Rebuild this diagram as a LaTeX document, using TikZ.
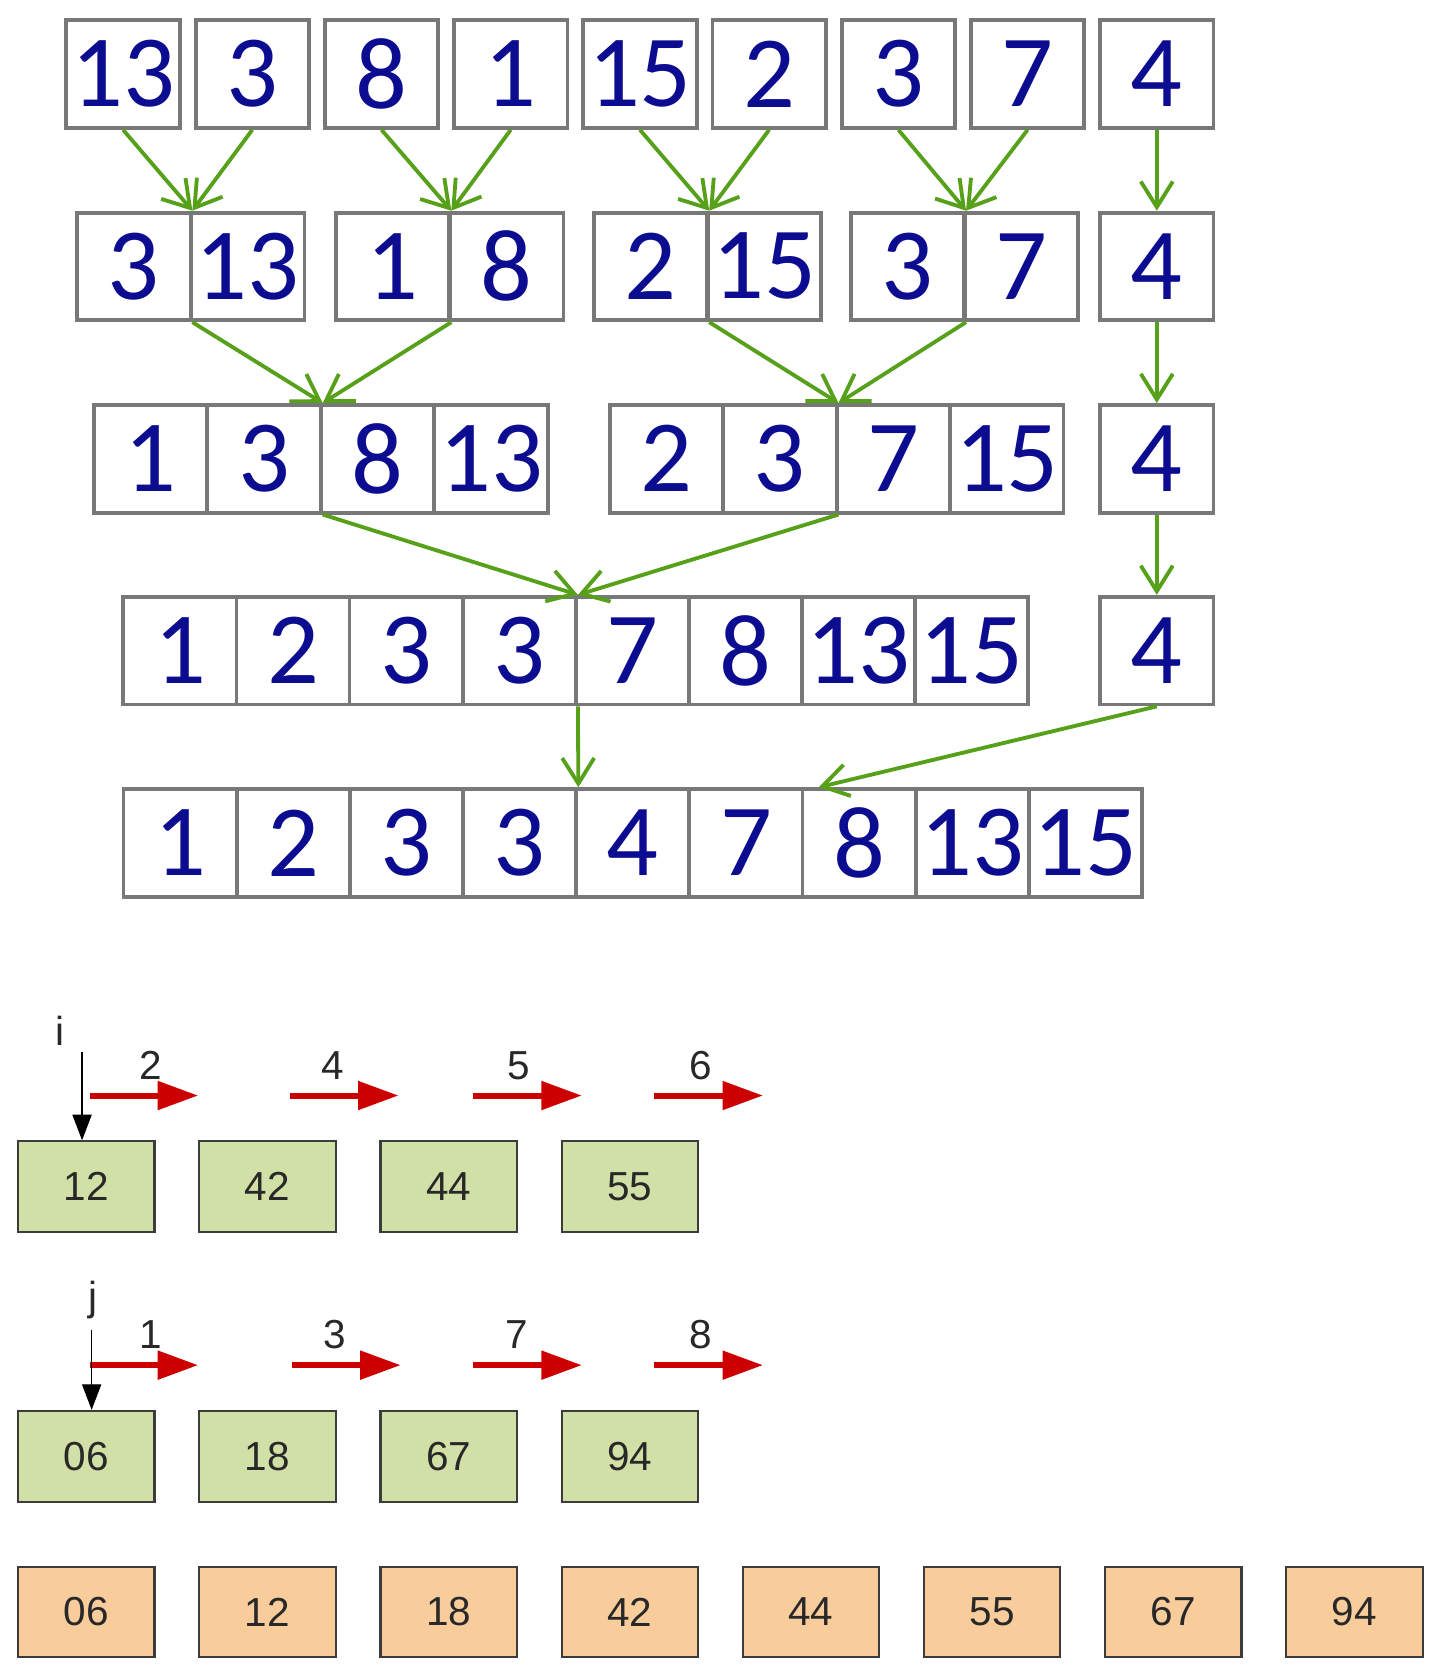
\documentclass[tikz,border=0pt]{standalone}
\usepackage{fontspec}
\usepackage{tikz}
\usetikzlibrary{arrows.meta}
\newfontfamily\digitfont{Carlito}
\newfontfamily\labelfont{Liberation Sans}
\definecolor{digitblue}{RGB}{12,12,145}
\definecolor{cellgray}{RGB}{120,120,120}
\definecolor{flowgreen}{RGB}{86,160,26}
\definecolor{arrowred}{RGB}{204,0,0}
\definecolor{boxline}{RGB}{60,60,60}
\definecolor{labelgray}{RGB}{40,40,40}
\definecolor{lightgreen}{RGB}{209,224,167}
\definecolor{lightorange}{RGB}{249,204,156}

\begin{document}
\begin{tikzpicture}[x=0.5pt,y=-0.5pt]
    \tikzstyle{cell}=[draw=cellgray, line width=1.8pt, fill=white, inner sep=0pt,
        minimum width=53.2pt, minimum height=50.5pt, text=digitblue,
        font=\digitfont\fontsize{48}{48}\selectfont]
    \tikzstyle{flow}=[draw=flowgreen, line width=1.8pt,
        -{Straight Barb[length=12pt,width=15pt]}]
    \tikzstyle{gbox}=[draw=boxline, line width=1pt, fill=lightgreen, inner sep=0pt,
        minimum width=64pt, minimum height=42.5pt, text=labelgray,
        font=\labelfont\fontsize{19}{19}\selectfont]
    \tikzstyle{obox}=[gbox, fill=lightorange]
    \tikzstyle{advance}=[draw=arrowred, line width=2.8pt, -{Triangle[length=19pt,width=13pt]}]
    \tikzstyle{steplab}=[inner sep=0pt, text=labelgray, font=\labelfont\fontsize{19}{19}\selectfont]
    \tikzstyle{ptr}=[draw=black, line width=0.6pt, -{Triangle[length=12pt,width=9pt]}]
    \useasboundingbox (0,0) rectangle (1347,1568);
    % merge sort rows
    \foreach \v [count=\k] in {13,3,8,1,15,2,3,7,4}
        \node[cell] (r1c\k) at ({115.5+(\k-1)*121.25},69.5) {\v};
    \foreach \v/\x [count=\k] in {3/125.5,13/232.5,1/368.5,8/475.5,2/610.5,15/717.5,3/851.5,7/958.5,4/1085.5}
        \node[cell] (r2c\k) at (\x,250) {\v};
    \foreach \v/\x [count=\k] in {1/141.3,3/247.8,8/354.3,13/460.8,2/625.3,3/731.8,7/838.3,15/944.8,4/1085.5}
        \node[cell] (r3c\k) at (\x,430.5) {\v};
    \foreach \v [count=\k] in {1,2,3,3,7,8,13,15}
        \node[cell] (r4c\k) at ({169+(\k-1)*106.1},610.5) {\v};
    \node[cell] (r4c9) at (1085.5,610.5) {4};
    \foreach \v [count=\k] in {1,2,3,3,4,7,8,13,15}
        \node[cell] (r5c\k) at ({169.1+(\k-1)*106.2},791) {\v};
    % merge arrows
    \foreach \i in {1,3,5,7} {
        \pgfmathtruncatemacro{\j}{\i+1}
        \draw[flow] (r1c\i.south) -- (r2c\i.north east);
        \draw[flow] (r1c\j.south) -- (r2c\i.north east);
    }
    \draw[flow] (r2c1.south east) -- (r3c2.north east);
    \draw[flow] (r2c3.south east) -- (r3c2.north east);
    \draw[flow] (r2c5.south east) -- (r3c6.north east);
    \draw[flow] (r2c7.south east) -- (r3c6.north east);
    \draw[flow] (r3c2.south east) -- (r4c4.north east);
    \draw[flow] (r3c6.south east) -- (r4c4.north east);
    \draw[flow] (r4c4.south east) -- (r5c4.north east);
    \draw[flow] (r1c9) -- (r2c9);
    \draw[flow] (r2c9) -- (r3c9);
    \draw[flow] (r3c9) -- (r4c9);
    \draw[flow] (r4c9.south) -- ([xshift=8.5pt]r5c7.north west);
    % two sorted lists and the result
    \foreach \v [count=\k] in {12,42,44,55}
        \node[gbox] (i\k) at ({81+(\k-1)*170},1113.5) {\v};
    \foreach \v [count=\k] in {06,18,67,94}
        \node[gbox] (j\k) at ({81+(\k-1)*170},1366.5) {\v};
    \foreach \v [count=\k] in {06,12,18,42,44,55,67,94}
        \node[obox] (m\k) at ({81+(\k-1)*170},1512.5) {\v};
    % steps
    \foreach \n/\x/\l in {2/84/141,4/272/312,5/444/487,6/614/658} {
        \draw[advance] (\x,1028) -- ++(102,0);
        \node[steplab] (si\n) at (\l,1000) {\n};
    }
    \foreach \n/\x/\l in {1/84/141,3/274/314,7/444/485,8/614/658} {
        \draw[advance] (\x,1281) -- ++(102,0);
        \node[steplab] (sj\n) at (\l,1252) {\n};
    }
    % pointers
    \node[steplab] (ilab) at (56,967) {i};
    \coordinate (itop) at (77,987);
    \draw[ptr] (itop) -- (itop |- i1.north);
    \node[steplab] (jlab) at (87,1220) {j};
    \coordinate (jtop) at (86,1248);
    \draw[ptr] (jtop) -- (jtop |- j1.north);
\end{tikzpicture}
\end{document}
